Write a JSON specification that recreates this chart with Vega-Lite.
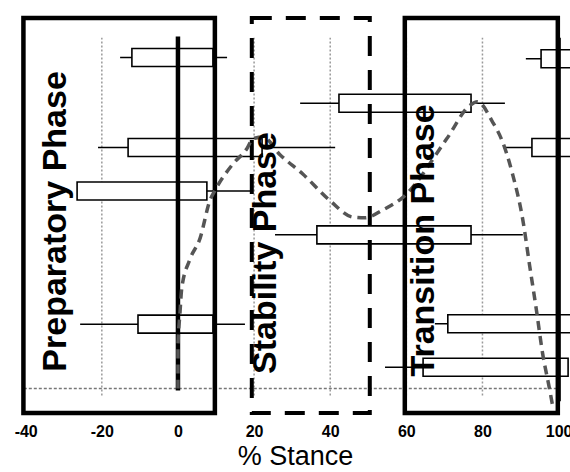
{
  "$schema": "https://vega.github.io/schema/vega-lite/v6.json",
  "width": 550,
  "height": 405,
  "autosize": {"type": "none"},
  "padding": {"left": 20, "top": 13, "right": 0, "bottom": 54},
  "background": "white",
  "datasets": {
    "grid": [{"x": -20, "lo": 4.4, "hi": 95}, {"x": 20, "lo": 4.4, "hi": 95}, {"x": 40, "lo": 4.4, "hi": 95}, {"x": 60, "lo": 4.4, "hi": 95}, {"x": 80, "lo": 4.4, "hi": 95}],
    "baseline": [{"x": -40.5, "x2": 100, "y": 6.2}],
    "boxes": [
      {"row": "A1", "y": 90, "wlo": -15.2, "blo": -12.1, "bhi": 9.2, "whi": 12.9},
      {"row": "A2", "y": 89.7, "wlo": 91.4, "blo": 95.4, "bhi": 110, "whi": 110},
      {"row": "B", "y": 78.4, "wlo": 32.1, "blo": 42.3, "bhi": 77, "whi": 85.9},
      {"row": "C1", "y": 67.2, "wlo": -21, "blo": -13.1, "bhi": 22.1, "whi": 41.3},
      {"row": "C2", "y": 67.2, "wlo": 85.4, "blo": 93, "bhi": 110, "whi": 110},
      {"row": "D", "y": 56.2, "wlo": -26.5, "blo": -26.5, "bhi": 7.6, "whi": 19.4},
      {"row": "E", "y": 45.1, "wlo": 25.5, "blo": 36.5, "bhi": 77, "whi": 90.6},
      {"row": "F1", "y": 22.5, "wlo": -25.7, "blo": -10.5, "bhi": 9.2, "whi": 17.6},
      {"row": "F2", "y": 22.6, "wlo": 67.5, "blo": 70.9, "bhi": 110, "whi": 110},
      {"row": "G", "y": 11.6, "wlo": 54.4, "blo": 64.4, "bhi": 102.5, "whi": 102.5}
    ],
    "events": [{"x": 0, "lo": 5.7, "hi": 95.3}, {"x": 100, "lo": 3, "hi": 95}],
    "phasesSolid": [{"phase": "Preparatory", "x": -40.6, "x2": 9.7, "lo": 0, "hi": 100}, {"phase": "Transition", "x": 59.6, "x2": 99.8, "lo": 0, "hi": 100}],
    "phasesDashed": [{"phase": "Stability", "x": 19.4, "x2": 50.4, "lo": 0, "hi": 100}],
    "curve": [
      {"x": 0, "y": 6.2}, {"x": 0, "y": 17}, {"x": 0.5, "y": 24.9}, {"x": 1.0, "y": 31.6}, {"x": 3.1, "y": 38.8},
      {"x": 5.8, "y": 44.2}, {"x": 8.4, "y": 53.8}, {"x": 9.7, "y": 56.3}, {"x": 14.4, "y": 63}, {"x": 18.1, "y": 66.9},
      {"x": 19.7, "y": 69.4}, {"x": 22.3, "y": 69.9}, {"x": 26.8, "y": 65.4}, {"x": 32.8, "y": 60.5}, {"x": 39.9, "y": 53.8},
      {"x": 45.9, "y": 49.6}, {"x": 49.1, "y": 49.4}, {"x": 53.8, "y": 51.4}, {"x": 59.1, "y": 54.6}, {"x": 70.6, "y": 69.4},
      {"x": 76.6, "y": 77.8}, {"x": 78.7, "y": 78.8}, {"x": 82.7, "y": 73.6}, {"x": 85.3, "y": 68.6}, {"x": 87.9, "y": 60.5},
      {"x": 90.6, "y": 48.9}, {"x": 92.4, "y": 37.3}, {"x": 94.2, "y": 25.9}, {"x": 95.8, "y": 15.1}, {"x": 97.6, "y": 6.2},
      {"x": 98.4, "y": 2}
    ],
    "labels": [
      {"text": "Preparatory Phase", "x": -32, "y": 48.5},
      {"text": "Stability Phase", "x": 23.1, "y": 40.5},
      {"text": "Transition Phase", "x": 64.6, "y": 43.7}
    ]
  },
  "config": {
    "view": {"stroke": null},
    "axisX": {
      "domain": false, "ticks": false, "grid": false,
      "labelFont": "Liberation Sans", "labelFontWeight": "bold", "labelFontSize": 16, "labelColor": "#000",
      "labelPadding": 5, "labelFlush": false, "labelOverlap": false,
      "labelExpr": "'' + datum.value",
      "titleFont": "Liberation Sans", "titleFontSize": 27, "titleFontWeight": "normal", "titleColor": "#000", "titlePadding": 4
    }
  },
  "layer": [
    {
      "data": {"name": "grid"},
      "mark": {"type": "rule", "stroke": "#9a9a9a", "strokeWidth": 1.5, "strokeDash": [2, 2]},
      "encoding": {
        "x": {"field": "x", "type": "quantitative", "title": "% Stance", "axis": {"values": [-40, -20, 0, 20, 40, 60, 80, 100]}, "scale": {"domain": [-41.5, 103], "nice": false, "zero": false}},
        "y": {"field": "lo", "type": "quantitative", "axis": null, "scale": {"domain": [0, 100], "nice": false, "zero": false}},
        "y2": {"field": "hi"}
      }
    },
    {
      "data": {"name": "baseline"},
      "mark": {"type": "rule", "stroke": "#777", "strokeWidth": 1.5, "strokeDash": [3, 2]},
      "encoding": {
        "x": {"field": "x", "type": "quantitative", "title": "% Stance", "axis": {"values": [-40, -20, 0, 20, 40, 60, 80, 100]}},
        "x2": {"field": "x2"},
        "y": {"field": "y", "type": "quantitative", "axis": null}
      }
    },
    {
      "data": {"name": "boxes"},
      "mark": {"type": "rule", "stroke": "#000", "strokeWidth": 1.5},
      "encoding": {
        "x": {"field": "wlo", "type": "quantitative", "title": "% Stance", "axis": {"values": [-40, -20, 0, 20, 40, 60, 80, 100]}},
        "x2": {"field": "whi"},
        "y": {"field": "y", "type": "quantitative", "axis": null}
      }
    },
    {
      "data": {"name": "boxes"},
      "mark": {"type": "bar", "orient": "horizontal", "size": 18, "fill": "white", "stroke": "#000", "strokeWidth": 1.6},
      "encoding": {
        "x": {"field": "blo", "type": "quantitative", "title": "% Stance", "axis": {"values": [-40, -20, 0, 20, 40, 60, 80, 100]}},
        "x2": {"field": "bhi"},
        "y": {"field": "y", "type": "quantitative", "axis": null}
      }
    },
    {
      "data": {"name": "events"},
      "mark": {"type": "rule", "stroke": "#000", "strokeWidth": 4.5},
      "encoding": {
        "x": {"field": "x", "type": "quantitative", "title": "% Stance", "axis": {"values": [-40, -20, 0, 20, 40, 60, 80, 100]}},
        "y": {"field": "lo", "type": "quantitative", "axis": null},
        "y2": {"field": "hi"}
      }
    },
    {
      "data": {"name": "phasesSolid"},
      "mark": {"type": "rect", "fill": null, "fillOpacity": 0, "stroke": "#000", "strokeWidth": 4.5},
      "encoding": {
        "x": {"field": "x", "type": "quantitative", "title": "% Stance", "axis": {"values": [-40, -20, 0, 20, 40, 60, 80, 100]}},
        "x2": {"field": "x2"},
        "y": {"field": "lo", "type": "quantitative", "axis": null},
        "y2": {"field": "hi"}
      }
    },
    {
      "data": {"name": "phasesDashed"},
      "mark": {"type": "rect", "fill": null, "fillOpacity": 0, "stroke": "#000", "strokeWidth": 4, "strokeDash": [20, 14]},
      "encoding": {
        "x": {"field": "x", "type": "quantitative", "title": "% Stance", "axis": {"values": [-40, -20, 0, 20, 40, 60, 80, 100]}},
        "x2": {"field": "x2"},
        "y": {"field": "lo", "type": "quantitative", "axis": null},
        "y2": {"field": "hi"}
      }
    },
    {
      "data": {"name": "curve"},
      "mark": {"type": "line", "interpolate": "monotone", "stroke": "#555", "strokeWidth": 3.5, "strokeDash": [9, 6]},
      "encoding": {
        "x": {"field": "x", "type": "quantitative", "title": "% Stance", "axis": {"values": [-40, -20, 0, 20, 40, 60, 80, 100]}},
        "y": {"field": "y", "type": "quantitative", "axis": null}
      }
    },
    {
      "data": {"name": "labels"},
      "mark": {"type": "text", "angle": 270, "align": "center", "baseline": "middle", "font": "Liberation Sans", "fontWeight": "bold", "fontSize": 34, "color": "#000"},
      "encoding": {
        "x": {"field": "x", "type": "quantitative", "title": "% Stance", "axis": {"values": [-40, -20, 0, 20, 40, 60, 80, 100]}},
        "y": {"field": "y", "type": "quantitative", "axis": null},
        "text": {"field": "text"}
      }
    }
  ]
}
